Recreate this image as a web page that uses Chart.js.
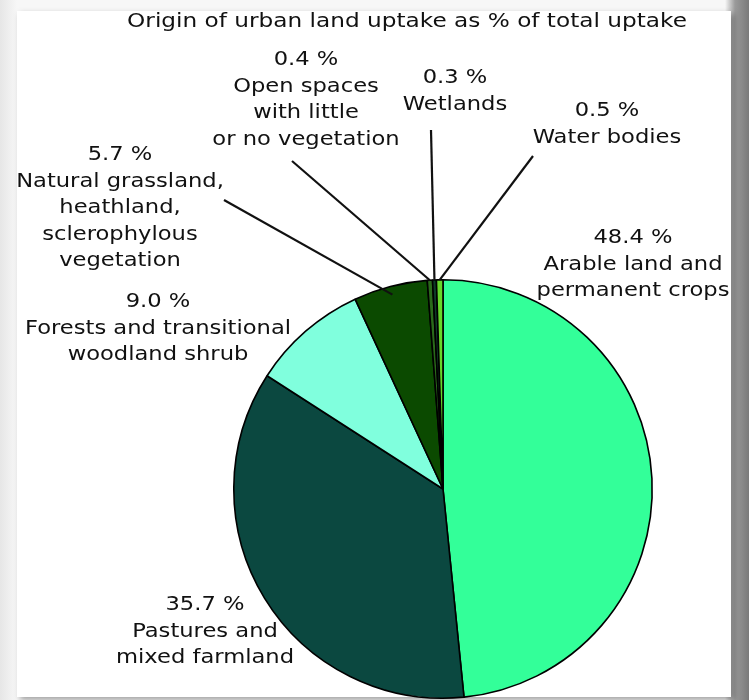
<!DOCTYPE html>
<html>
<head>
<meta charset="utf-8">
<script src="https://cdn.jsdelivr.net/npm/chart.js@4"></script>
<style>
  html, body { margin: 0; padding: 0; }
  body {
    width: 749px; height: 700px; overflow: hidden; position: relative;
    background: linear-gradient(to right, #e6e6e6 0px, #f7f7f7 17px, #f7f7f7 725px, #9a9a9a 735px, #7a7a7a 749px);
  }
  #panel {
    position: absolute; left: 17px; top: 11px; width: 714px; height: 686px;
    background: #fff;
    box-shadow: 3px 3px 6px rgba(0,0,0,0.35);
  }
  #wrap { position: absolute; left: 0; top: 0; width: 749px; height: 700px; }
</style>
</head>
<body>
<div id="panel"></div>
<div id="wrap"><canvas id="myChart" width="749" height="700"></canvas></div>
<script>
const categories = [
    ["Arable land and", "permanent crops"],
    ["Pastures and", "mixed farmland"],
    ["Forests and transitional", "woodland shrub"],
    ["Natural grassland,", "heathland,", "sclerophylous", "vegetation"],
    ["Open spaces", "with little", "or no vegetation"],
    ["Wetlands"],
    ["Water bodies"]
];
const shares = [48.4, 35.7, 9.0, 5.7, 0.4, 0.3, 0.5];
const sliceColors = ['#33ff99', '#0b4840', '#80ffdd', '#0b4a00', '#2a6a1a', '#0e3a26', '#66d62a'];

// where each label block sits (centre x, first line y) and whether it gets a leader line
const labelSpots = [
    { x: 633, y: 238, line: false },
    { x: 205, y: 605, line: false },
    { x: 158, y: 302, line: false },
    { x: 120, y: 155, line: true, from: [224, 200], r: 0.96 },
    { x: 306, y: 60, line: true, from: [292, 161], r: 1.0 },
    { x: 455, y: 78, line: true, from: [431, 130], r: 1.0 },
    { x: 607, y: 111, line: true, from: [533, 156], r: 1.0 }
];

// the source text is stretched sideways a little
const stretchX = 1.16;

function wideText(c, t, x, y) {
    c.save();
    c.translate(x, y);
    c.scale(stretchX, 1);
    c.fillText(t, 0, 0);
    c.restore();
}

const labelPlugin = {
    id: 'sliceLabels',
    afterDatasetsDraw(chart) {
        const ctx = chart.ctx;
        const meta = chart.getDatasetMeta(0);
        ctx.save();
        ctx.font = '19.5px "DejaVu Sans", Verdana, sans-serif';
        ctx.fillStyle = '#111';
        ctx.textAlign = 'center';
        ctx.textBaseline = 'middle';
        meta.data.forEach((arc, i) => {
            const spot = labelSpots[i];
            const lines = [shares[i].toFixed(1) + ' %'].concat(categories[i]);
            lines.forEach((t, j) => {
                wideText(ctx, t, spot.x, spot.y + j * 26.5);
            });
            if (spot.line) {
                const p = arc.getProps(['x', 'y', 'startAngle', 'endAngle', 'outerRadius'], true);
                const mid = (p.startAngle + p.endAngle) / 2;
                const ex = p.x + Math.cos(mid) * p.outerRadius * spot.r;
                const ey = p.y + Math.sin(mid) * p.outerRadius * spot.r;
                ctx.beginPath();
                ctx.strokeStyle = '#111';
                ctx.lineWidth = 2.2;
                ctx.moveTo(spot.from[0], spot.from[1]);
                ctx.lineTo(ex, ey);
                ctx.stroke();
            }
        });
        ctx.restore();
    }
};

const ctx = document.getElementById('myChart').getContext('2d');
new Chart(ctx, {
    type: 'pie',
    data: {
        labels: categories.map(c => c.join(' ')),
        datasets: [{
            data: shares,
            backgroundColor: sliceColors,
            borderColor: '#000',
            borderWidth: 1.6
        }]
    },
    options: {
        responsive: false,
        animation: false,
        layout: {
            padding: { left: 232, right: 95, top: 279, bottom: 1 }
        },
        plugins: {
            legend: { display: false },
            tooltip: { enabled: false },
            title: { display: false }
        }
    },
    plugins: [labelPlugin, {
        id: 'chartTitle',
        afterDraw(chart) {
            const c = chart.ctx;
            c.save();
            c.font = '20px "DejaVu Sans", Verdana, sans-serif';
            c.fillStyle = '#111';
            c.textAlign = 'center';
            c.textBaseline = 'middle';
            wideText(c, 'Origin of urban land uptake as % of total uptake', 407, 22);
            c.restore();
        }
    }]
});
</script>
</body>
</html>
